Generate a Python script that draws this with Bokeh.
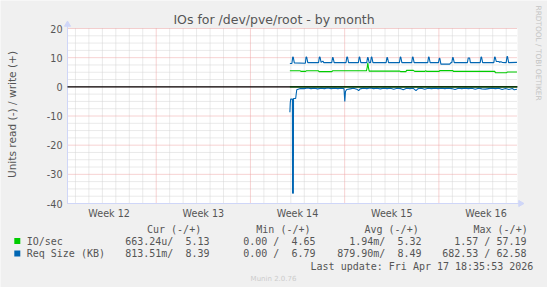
import math
from bokeh.plotting import figure
from bokeh.models import Range1d
from bokeh.core.properties import value
from bokeh.embed import file_html
from bokeh.resources import INLINE

# ---------------- data (x in days; day 0 = start of Week 13) ----------------
title_text = "IOs for /dev/pve/root - by month"
y_axis_title = "Units read (-) / write (+)"
week_label_days = [-3.5, 3.5, 10.5, 17.5, 24.5]
week_labels = ["Week 12", "Week 13", "Week 14", "Week 15", "Week 16"]
week_start_days = [0, 7, 14, 21]
day_grid = [-6, -5, -4, -3, -2, -1, 1, 2, 3, 4, 5, 6, 8, 9, 10, 11, 12, 13,
            15, 16, 17, 18, 19, 20, 22, 23, 24, 25, 26]
y_ticks = [-40, -30, -20, -10, 0, 10, 20]
y_tick_labels = ["-40", "-30", "-20", "-10", "0", "10", "20"]
y_minor = [-37.5, -35, -32.5, -27.5, -25, -22.5, -17.5, -15, -12.5, -7.5, -5,
           -2.5, 2.5, 5, 7.5, 12.5, 15, 17.5]

# IO/sec write (+)
io_write_day = [9.93, 10.70, 10.75, 11.10, 11.15, 12.05, 12.10, 13.05, 13.10,
                15.62, 15.68, 15.72, 15.76, 15.82, 18.10, 18.15, 18.55, 18.60,
                19.10, 19.20, 19.95, 20.00, 20.10, 21.02, 21.05, 22.04, 22.08,
                25.15, 25.20, 26.04, 26.08, 26.80]
io_write_val = [5.5, 5.5, 5.3, 5.3, 5.5, 5.5, 5.2, 5.2, 5.5,
                5.5, 6.8, 8.2, 6.8, 5.4, 5.4, 5.2, 5.2, 5.65,
                5.65, 5.3, 5.3, 5.5, 5.3, 5.3, 5.55, 5.55, 5.3,
                5.3, 4.85, 4.85, 5.1, 5.1]
# IO/sec read (-)
io_read_day = [9.93, 14.0, 20.0, 26.80]
io_read_val = [-0.01, -0.01, -0.01, -0.01]

# Req Size (KB) write (+)
req_write_day = [9.93, 10.08, 10.14, 10.18, 10.26, 11.08, 11.13, 11.18, 11.26,
                 12.06, 12.12, 12.17, 12.25, 12.38, 12.45, 13.04, 13.10, 13.14,
                 13.22, 14.10, 14.16, 14.21, 14.29, 15.02, 15.08, 15.12, 15.20,
                 15.64, 15.70, 15.74, 15.82, 15.92, 15.98, 16.02, 16.10, 17.08,
                 17.14, 17.18, 17.26, 18.07, 18.13, 18.17, 18.25, 18.98, 19.04,
                 19.08, 19.16, 20.17, 20.23, 20.27, 20.35, 20.97, 21.03, 21.07,
                 21.15, 21.80, 21.90, 21.96, 22.02, 22.06, 22.14, 23.12, 23.18,
                 23.28, 23.34, 24.07, 24.13, 24.17, 24.25, 25.08, 25.14, 25.18,
                 25.26, 25.45, 25.50, 25.60, 25.70, 26.00, 26.06, 26.10, 26.18,
                 26.80]
req_write_val = [8.0, 8.0, 10.2, 10.2, 8.2, 8.1, 10.2, 10.2, 8.3,
                 8.3, 10.2, 10.2, 8.4, 8.8, 8.3, 8.3, 10.0, 10.0,
                 8.3, 8.3, 10.2, 10.2, 8.3, 8.3, 10.2, 10.2, 8.3,
                 8.3, 10.0, 10.0, 8.3, 8.3, 10.2, 10.2, 8.3, 8.3,
                 10.0, 10.0, 8.3, 8.3, 10.2, 10.2, 8.3, 8.3, 10.2,
                 10.2, 8.3, 8.3, 10.2, 10.2, 8.3, 8.3, 9.8, 9.8,
                 7.8, 7.8, 8.3, 8.3, 10.0, 10.0, 8.3, 8.3, 9.9,
                 9.9, 8.3, 8.3, 10.2, 10.2, 8.3, 8.3, 10.2, 10.2,
                 8.7, 8.7, 8.4, 8.6, 8.4, 8.3, 10.4, 10.4, 8.3,
                 8.4]
# Req Size (KB) read (-)
req_read_day = [9.93, 9.96, 9.99, 10.12, 10.13, 10.19, 10.20, 10.36, 10.44,
                10.70, 11.00, 11.25, 11.50, 11.75, 12.00, 12.25, 12.50, 12.75,
                13.00, 13.25, 13.50, 13.75, 13.95, 14.01, 14.06, 14.15, 14.40,
                14.65, 14.90, 15.04, 15.15, 15.40, 15.65, 15.90, 16.15, 16.40,
                16.65, 16.90, 17.15, 17.40, 17.65, 17.90, 18.15, 18.35, 18.60,
                18.85, 19.10, 19.30, 19.45, 19.70, 19.95, 20.20, 20.45, 20.70,
                20.95, 21.20, 21.45, 21.70, 21.95, 22.20, 22.45, 22.70, 22.95,
                23.20, 23.45, 23.70, 23.95, 24.20, 24.45, 24.70, 24.95, 25.20,
                25.45, 25.70, 25.95, 26.20, 26.45, 26.60, 26.80]
req_read_val = [-8.7, -5.5, -4.2, -4.2, -36.5, -36.5, -4.0, -4.0, -1.0,
                -0.6, -0.6, -0.4, -0.6, -0.5, -0.7, -0.5, -0.6, -0.4,
                -0.6, -0.5, -0.6, -0.5, -0.6, -5.0, -1.6, -0.9, -0.7,
                -0.5, -0.8, -1.3, -0.7, -0.5, -0.6, -0.4, -0.6, -0.5,
                -0.7, -0.5, -0.6, -0.5, -0.8, -0.5, -0.6, -1.0, -0.5,
                -0.6, -0.5, -1.3, -0.6, -0.5, -0.8, -0.5, -0.6, -0.5,
                -0.6, -0.5, -0.6, -0.5, -0.6, -0.9, -0.5, -0.6, -0.5,
                -0.6, -0.5, -0.8, -0.5, -0.7, -0.8, -0.6, -0.5, -0.6,
                -0.5, -0.9, -0.6, -0.9, -0.6, -1.0, -0.8]

legend_header = ["Cur (-/+)", "Min (-/+)", "Avg (-/+)", "Max (-/+)"]
legend_names = ["IO/sec", "Req Size (KB)"]
legend_values = [
    ["663.24u/  5.13", "0.00 /  4.65", "1.94m/  5.32", "1.57 / 57.19"],
    ["813.51m/  8.39", "0.00 /  6.79", "879.90m/  8.49", "682.53 / 62.58"],
]
last_update = "Last update: Fri Apr 17 18:35:53 2026"
version_text = "Munin 2.0.76"
side_text = "RRDTOOL / TOBI OETIKER"

# ---------------- styling / layout ----------------
GREEN = "#00CC00"
BLUE = "#0066B3"
FONT_COL = "#555555"
AXIS_COL = "#CFD6F8"
MINOR_COL = "#d4d4d4"
MAJOR_COL = "#eea4a4"
W, H = 547, 287
FL, FR, FT, FB = 67, 517, 28, 203      # plot area in canvas pixels
X0, X1 = -6.59, 26.84                  # plot area in data units
Y0, Y1 = -40, 20


def dx(px):
    return X0 + (px - FL) * (X1 - X0) / (FR - FL)


def dy(py):
    return Y1 - (py - FT) * (Y1 - Y0) / (FB - FT)


def keep_spaces(s):
    # SVG collapses runs of spaces; keep the monospaced alignment
    return s.replace(" ", "\u00a0")


p = figure(width=W, height=H, x_range=Range1d(dx(0), dx(W)),
           y_range=Range1d(dy(H), dy(0)),
           output_backend="svg", toolbar_location=None,
           x_axis_type=None, y_axis_type=None, min_border=0)
p.background_fill_color = "#F0F0F0"
p.border_fill_color = "#F0F0F0"
p.outline_line_color = None

# plot canvas
p.quad(left=[X0], right=[X1], bottom=[Y0], top=[Y1], fill_color="white",
       line_color=None)

# grid
p.segment(x0=day_grid, x1=day_grid, y0=[Y0] * len(day_grid), y1=[Y1] * len(day_grid),
          line_color=MINOR_COL, line_dash="1 1", line_width=1)
p.segment(x0=[X0] * len(y_minor), x1=[X1] * len(y_minor), y0=y_minor, y1=y_minor,
          line_color=MINOR_COL, line_dash="1 1", line_width=1)
p.segment(x0=week_start_days, x1=week_start_days, y0=[Y0] * len(week_start_days),
          y1=[Y1] * len(week_start_days), line_color=MAJOR_COL, line_dash="1 1",
          line_width=1)
p.segment(x0=[X0] * len(y_ticks), x1=[X1] * len(y_ticks), y0=y_ticks, y1=y_ticks,
          line_color=MAJOR_COL, line_dash="1 1", line_width=1)

# axes lines + arrows
p.segment(x0=[X0, X0], y0=[Y0, Y0], x1=[X0, dx(519)], y1=[dy(24), Y0],
          line_color=AXIS_COL, line_width=1)
p.scatter(x=[X0], y=[dy(24)], marker="triangle", size=6, color=AXIS_COL)
p.scatter(x=[dx(520)], y=[Y0], marker="triangle", size=6, color=AXIS_COL,
          angle=-math.pi / 2)

# series
p.line(io_read_day, io_read_val, line_color=GREEN, line_width=1.1)
p.line(io_write_day, io_write_val, line_color=GREEN, line_width=1.1)
p.line(req_read_day, req_read_val, line_color=BLUE, line_width=1.1)
p.line(req_write_day, req_write_val, line_color=BLUE, line_width=1.1)
p.segment(x0=[X0], x1=[X1], y0=[0], y1=[0], line_color="black", line_width=1.3)


def txt(xs, ys, texts, size="10px", font="DejaVu Sans Mono", color=FONT_COL,
        align="left", angle=0.0):
    p.text(x=xs, y=ys, text=[keep_spaces(t) for t in texts], text_font=value(font),
           text_font_size=value(size), text_color=color, text_align=align,
           text_baseline="middle", angle=angle)


# tick labels
txt([dx(62)] * len(y_ticks), y_ticks, y_tick_labels, size="9.6px",
    font="DejaVu Sans", align="right")
txt(week_label_days, [dy(212.5)] * len(week_labels), week_labels, size="9.6px",
    font="DejaVu Sans", align="center")

# titles
txt([dx(273.5)], [dy(19)], [title_text], size="12.5px", font="DejaVu Sans",
    align="center")
txt([dx(11)], [dy(114)], [y_axis_title], size="10.6px", font="DejaVu Sans",
    align="center", angle=math.pi / 2)
txt([dx(538)], [dy(5)], [side_text], size="7.4px", font="DejaVu Sans",
    color="#c4c4c4", align="left", angle=-math.pi / 2)

# legend
header_left = [146.5, 255.8, 364.0, 473.0]
txt([dx(v) for v in header_left], [dy(228.5)] * 4, legend_header)
row_y = [240.5, 253.0]
col_right = [209.0, 315.0, 421.0, 526.0]
p.scatter(x=[dx(16.8)] * 2, y=[dy(v) for v in row_y], marker="square", size=6,
          color=[GREEN, BLUE], line_color=None)
txt([dx(26.2)] * 2, [dy(v) for v in row_y], legend_names)
for ry, vals in zip(row_y, legend_values):
    txt([dx(v) for v in col_right], [dy(ry)] * 4, vals, align="right")
txt([dx(532.8)], [dy(265.5)], [last_update], align="right")
txt([dx(273)], [dy(278.5)], [version_text], size="7px", font="DejaVu Sans",
    color="#cccccc", align="center")

open("out.html", "w").write(file_html(p, INLINE))
